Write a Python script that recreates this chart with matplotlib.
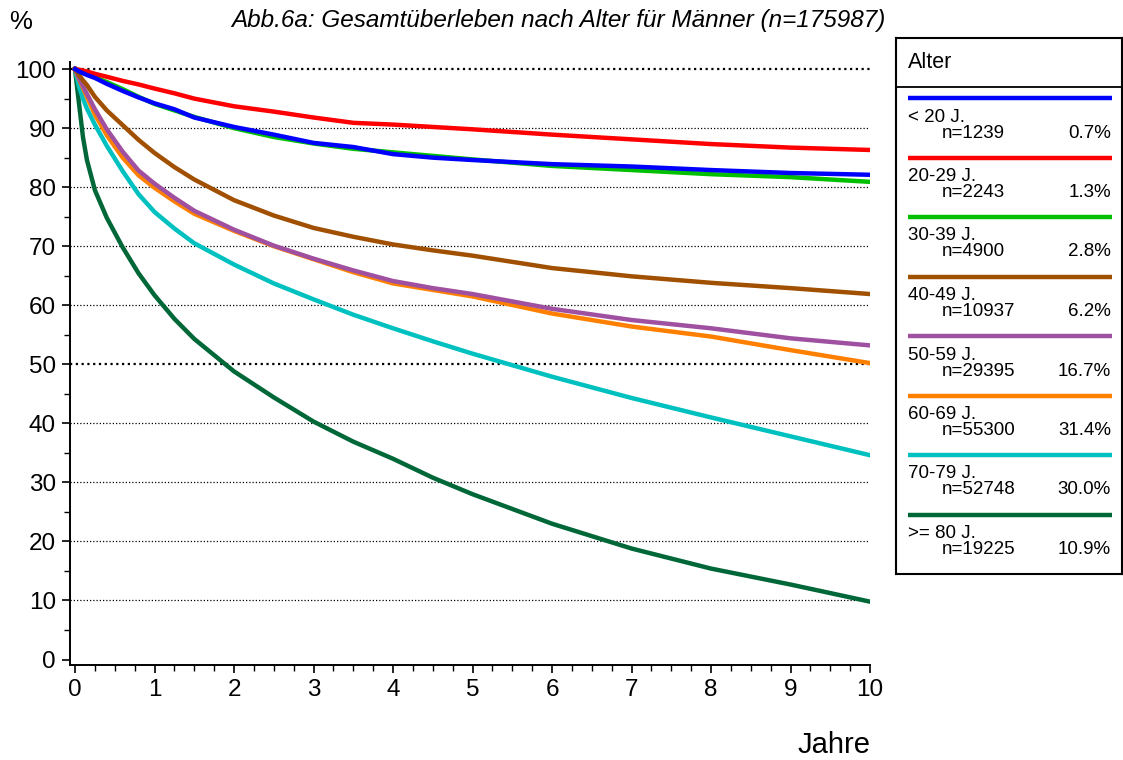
import matplotlib

matplotlib.use("Agg")
import matplotlib.pyplot as plt
from matplotlib.ticker import MultipleLocator

plt.rcParams["font.family"] = ["Liberation Sans", "DejaVu Sans"]

# years after diagnosis
years = [0, 0.05, 0.1, 0.15, 0.25, 0.4, 0.6, 0.8, 1, 1.25, 1.5, 2, 2.5, 3, 3.5, 4, 4.5, 5, 6, 7, 8, 9, 10]

# survival (%) per age group
s_u20 = [100, 99.6, 99.3, 99.0, 98.5, 97.5, 96.3, 95.2, 94.2, 93.2, 91.8, 90.2, 88.9, 87.5, 86.8, 85.6, 85.0, 84.6, 83.9, 83.5, 82.9, 82.4, 82.1]
s_20_29 = [100, 99.9, 99.75, 99.6, 99.2, 98.7, 98.0, 97.4, 96.7, 95.9, 95.0, 93.7, 92.8, 91.8, 90.9, 90.6, 90.2, 89.8, 88.9, 88.1, 87.3, 86.7, 86.3]
s_30_39 = [100, 99.6, 99.35, 99.1, 98.6, 97.8, 96.6, 95.3, 94.1, 93.0, 91.9, 90.0, 88.5, 87.4, 86.5, 85.9, 85.3, 84.7, 83.6, 82.9, 82.2, 81.7, 80.9]
s_40_49 = [100, 99.0, 98.1, 97.3, 95.3, 93.0, 90.5, 88.0, 85.8, 83.4, 81.3, 77.8, 75.2, 73.1, 71.6, 70.3, 69.3, 68.4, 66.3, 64.9, 63.8, 62.9, 61.9]
s_50_59 = [100, 98.5, 97.1, 95.8, 93.2, 89.8, 86.0, 82.8, 80.6, 78.2, 76.0, 72.8, 70.1, 67.9, 65.9, 64.1, 62.9, 61.9, 59.4, 57.5, 56.1, 54.4, 53.2]
s_60_69 = [100, 98.3, 96.8, 95.3, 92.3, 88.8, 85.0, 82.0, 79.9, 77.6, 75.5, 72.6, 70.0, 67.8, 65.6, 63.7, 62.6, 61.5, 58.6, 56.4, 54.7, 52.4, 50.2]
s_70_79 = [100, 97.0, 95.0, 93.3, 90.6, 87.0, 82.7, 78.8, 75.8, 73.0, 70.5, 66.9, 63.7, 61.0, 58.4, 56.1, 53.9, 51.8, 47.9, 44.3, 41.0, 37.8, 34.6]
s_80p = [100, 94.2, 88.5, 84.6, 79.5, 74.8, 69.8, 65.4, 61.7, 57.7, 54.3, 48.8, 44.4, 40.3, 36.9, 34.0, 30.8, 28.0, 23.0, 18.8, 15.4, 12.7, 9.8]

groups = ["< 20 J.", "20-29 J.", "30-39 J.", "40-49 J.", "50-59 J.", "60-69 J.", "70-79 J.", ">= 80 J."]
counts = [1239, 2243, 4900, 10937, 29395, 55300, 52748, 19225]
shares = ["0.7%", "1.3%", "2.8%", "6.2%", "16.7%", "31.4%", "30.0%", "10.9%"]
colors = ["#0000ff", "#ff0000", "#00c000", "#a05000", "#a050a0", "#ff8000", "#00c0c0", "#006838"]
curves = [s_u20, s_20_29, s_30_39, s_40_49, s_50_59, s_60_69, s_70_79, s_80p]

fig = plt.figure(figsize=(11.23, 7.6), dpi=100)
ax = fig.add_axes([70 / 1123, 95 / 760, 800 / 1123, 603 / 760])

for yv in range(10, 101, 10):
    heavy = yv in (50, 100)
    ax.axhline(yv, color="black", linestyle=(0, (1, 1.6)), lw=1.6 if heavy else 0.9, zorder=1)

# older groups first so the small groups stay on top
for vals, col in zip(reversed(curves), reversed(colors)):
    ax.plot(years, vals, color=col, lw=3.2, solid_joinstyle="round", zorder=3)

ax.set_xlim(-0.063, 10.0)
ax.set_ylim(-0.93, 101.2)
ax.xaxis.set_major_locator(MultipleLocator(1))
ax.xaxis.set_minor_locator(MultipleLocator(0.25))
ax.yaxis.set_major_locator(MultipleLocator(10))
ax.yaxis.set_minor_locator(MultipleLocator(5))
ax.tick_params(which="major", direction="out", length=6, width=1.2, labelsize=17.5, pad=4)
ax.tick_params(which="minor", direction="out", length=4, width=1.0)
ax.spines["top"].set_visible(False)
ax.spines["right"].set_visible(False)
ax.spines["left"].set_linewidth(1.4)
ax.spines["bottom"].set_linewidth(1.4)

fig.text(9 / 1123, 1 - 22 / 760, "%", fontsize=18.5, va="center", ha="left")
fig.text(871 / 1123, 1 - 745 / 760, "Jahre", fontsize=21, va="center", ha="right")
fig.text(558 / 1123, 1 - 20 / 760, "Abb.6a: Gesamtüberleben nach Alter für Männer (n=175987)",
         fontsize=17.5, style="italic", va="center", ha="center")

# legend box
leg = fig.add_axes([896 / 1123, (760 - 574) / 760, 226 / 1123, 536 / 760])
leg.set_xlim(0, 226)
leg.set_ylim(536, 0)
leg.set_xticks([])
leg.set_yticks([])
for sp in leg.spines.values():
    sp.set_linewidth(1.5)
leg.axhline(49, color="black", lw=1.3)
leg.text(12, 24, "Alter", fontsize=15.5, va="center", ha="left")
for i, (g, n, p, col) in enumerate(zip(groups, counts, shares, colors)):
    y0 = 60 + i * 59.5
    leg.plot([12, 216], [y0, y0], color=col, lw=3.2, solid_capstyle="butt")
    leg.text(12, y0 + 19, g, fontsize=13.5, va="center", ha="left")
    leg.text(46, y0 + 35, f"n={n}", fontsize=13.5, va="center", ha="left")
    leg.text(215, y0 + 35, p, fontsize=13.5, va="center", ha="right")

fig.savefig("out.png", dpi=100)
